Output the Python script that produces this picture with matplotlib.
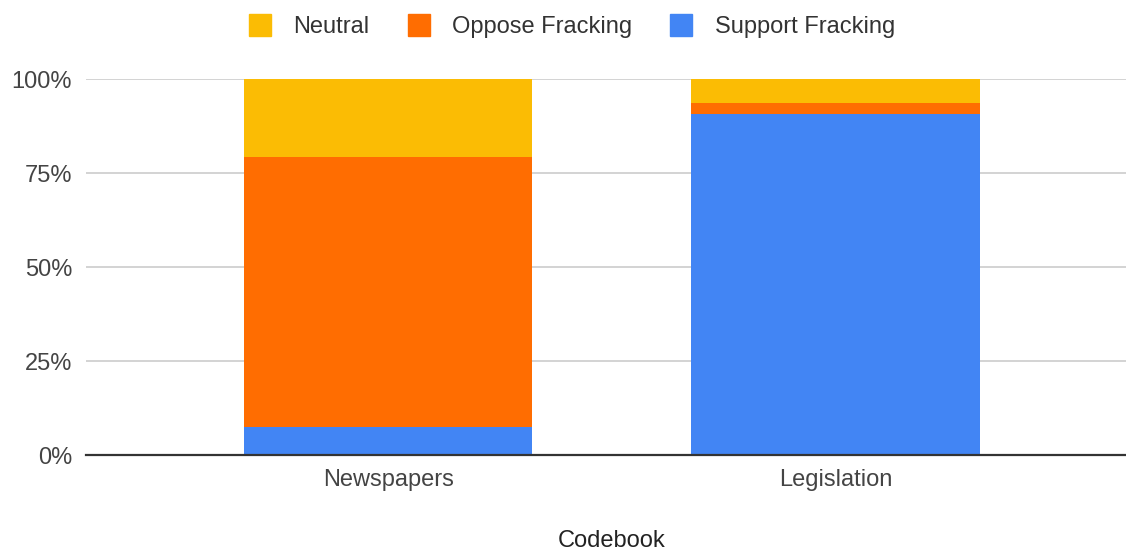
import numpy as np
import matplotlib
matplotlib.use("Agg")
import matplotlib.pyplot as plt
from matplotlib.lines import Line2D

# stacked share of articles by stance, per codebook
categories = ["Newspapers", "Legislation"]
support = [7.5, 90.6]
oppose = [71.7, 3.1]
neutral = [20.8, 6.3]

colors = {"Neutral": "#FBBC04", "Oppose Fracking": "#FF6D01", "Support Fracking": "#4285F4"}

plt.rcParams['font.family'] = ['Liberation Sans', 'DejaVu Sans']

fig = plt.figure(figsize=(11.26, 5.54), dpi=100)
ax = fig.add_axes([0.0764, 0.1787, 0.9236, 0.6787])

x = np.arange(len(categories))
w = 0.645
ax.bar(x, support, w, color=colors["Support Fracking"], zorder=3)
ax.bar(x, oppose, w, bottom=support, color=colors["Oppose Fracking"], zorder=3)
ax.bar(x, neutral, w, bottom=np.add(support, oppose), color=colors["Neutral"], zorder=3)

ax.set_xlim(-0.676, 1.65)
ax.set_ylim(0, 100)
ax.set_yticks([0, 25, 50, 75, 100])
ax.set_yticklabels(["0%", "25%", "50%", "75%", "100%"])
ax.set_xticks(x)
ax.set_xticklabels(categories)
ax.tick_params(axis='both', length=0, labelsize=17, labelcolor="#444444")
ax.tick_params(axis='y', pad=10)
ax.tick_params(axis='x', pad=10)
ax.grid(axis='y', color="#cccccc", lw=1.2, zorder=0)
for s in ["left", "right", "top"]:
    ax.spines[s].set_visible(False)
ax.spines["bottom"].set_color("#333333")
ax.spines["bottom"].set_linewidth(1.6)
ax.spines["bottom"].set_zorder(4)
fig.text(0.5435, 0.0235, "Codebook", fontsize=17, color="#222222", ha="center", va="center")

handles = [Line2D([], [], marker='s', ls='', markersize=16, color=c) for c in colors.values()]
fig.legend(handles, list(colors.keys()), loc="center", bbox_to_anchor=(0.5075, 0.951), ncol=3,
           frameon=False, fontsize=17, handlelength=1.0, handletextpad=0.9, columnspacing=1.6,
           labelcolor="#333333")

fig.savefig("out.png", dpi=100)
